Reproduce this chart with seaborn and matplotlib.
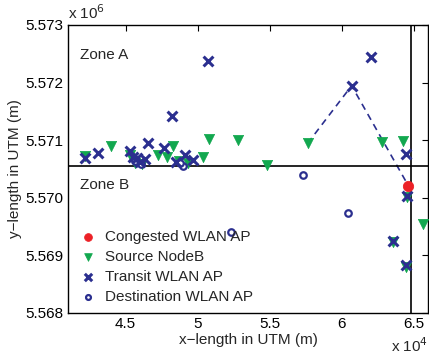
import numpy as np
import pandas as pd
import matplotlib
matplotlib.use("Agg")
import matplotlib.pyplot as plt
import seaborn as sns
from matplotlib.ticker import FuncFormatter

# point coordinates in UTM (m)
transit_x = [50743, 48243, 46576, 47687, 42181, 43104, 45305, 45535, 45771, 46347,
             46000, 48500, 49125, 49701, 62021, 60701, 64451, 64520, 63548, 64451]
transit_y = [5572380, 5571425, 5570946, 5570870, 5570686, 5570773, 5570821, 5570714,
             5570686, 5570669, 5570620, 5570627, 5570743, 5570656, 5572439, 5571946,
             5570760, 5570037, 5569255, 5568834]

source_x = [42181, 43986, 45305, 45653, 46139, 47271, 47854, 48326, 48708, 49354,
            50396, 50826, 52840, 54798, 57646, 62826, 64243, 65653, 64520, 63548, 64451]
source_y = [5570726, 5570899, 5570743, 5570599, 5570587, 5570743, 5570714, 5570899,
            5570639, 5570599, 5570714, 5571021, 5571004, 5570561, 5570946, 5570974,
            5570986, 5569545, 5570014, 5569233, 5568799]

dest_x = [57299, 60465, 52319, 49007, 45650, 46100, 48750]
dest_y = [5570396, 5569731, 5569412, 5570557, 5570640, 5570580, 5570600]

congested_x = [64640]
congested_y = [5570210]

# dashed path: source -> transit -> congested
path_x = [57646, 60701, 64640]
path_y = [5570946, 5571946, 5570210]

hline_y = 5570557
vline_x = 64840

blue = "#2b2f8f"
green = "#12a84f"
red = "#ec2127"

sns.set_style("white")
plt.rcParams["font.family"] = ["Liberation Sans", "DejaVu Sans"]
plt.rcParams["font.size"] = 11

fig = plt.figure(figsize=(4.29, 3.56), dpi=100)
ax = fig.add_axes([0.1585, 0.1208, 0.839, 0.809])

path = pd.DataFrame({"x": path_x, "y": path_y})
sns.lineplot(data=path, x="x", y="y", sort=False, ax=ax, color=blue,
             linestyle=(0, (4, 3)), linewidth=1.2, legend=False)

ax.axhline(hline_y, color="black", linewidth=1.2)
ax.axvline(vline_x, color="black", linewidth=1.2)

sns.scatterplot(x=source_x, y=source_y, ax=ax, marker="v", s=55, color=green,
                edgecolor=green, linewidth=0.5, label="Source NodeB", zorder=3)
sns.scatterplot(x=dest_x, y=dest_y, ax=ax, marker="o", s=22, facecolor="white",
                edgecolor=blue, linewidth=1.6, label="Destination WLAN AP", zorder=4)
sns.scatterplot(x=transit_x, y=transit_y, ax=ax, marker="x", s=50, color=blue,
                linewidth=2.2, label="Transit WLAN AP", zorder=5)
sns.scatterplot(x=congested_x, y=congested_y, ax=ax, marker="o", s=55, color=red,
                edgecolor=red, label="Congested WLAN AP", zorder=6)

ax.set_xlim(41000, 66000)
ax.set_ylim(5568000, 5573000)
ax.set_xticks([45000, 50000, 55000, 60000, 65000])
ax.set_yticks([5568000, 5569000, 5570000, 5571000, 5572000, 5573000])
ax.xaxis.set_major_formatter(FuncFormatter(lambda v, p: f"{v / 1e4:g}"))
ax.yaxis.set_major_formatter(FuncFormatter(lambda v, p: f"{v / 1e6:.3f}"))
ax.tick_params(direction="in", length=4, width=0.8, top=True, right=True,
               labelsize=11, colors="black", pad=3)
for sp in ax.spines.values():
    sp.set_color("black")
    sp.set_linewidth(1.0)

ax.set_xlabel("x\u2212length in UTM (m)", fontsize=11, labelpad=1)
ax.set_ylabel("y\u2212length in UTM (m)", fontsize=11, labelpad=3)

ax.text(0.0, 1.01, "x 10$^6$", transform=ax.transAxes, fontsize=11, va="bottom", ha="left")
ax.text(1.0, -0.135, "x 10$^4$", transform=ax.transAxes, fontsize=11, va="baseline", ha="right")

ax.text(41800, 5572480, "Zone A", fontsize=11, va="center")
ax.text(41800, 5570220, "Zone B", fontsize=11, va="center")

handles, labels = ax.get_legend_handles_labels()
order = ["Congested WLAN AP", "Source NodeB", "Transit WLAN AP", "Destination WLAN AP"]
hmap = dict(zip(labels, handles))
ax.legend([hmap[k] for k in order], order, loc="lower left", frameon=False,
          fontsize=11, markerscale=0.75, handletextpad=0.5, labelspacing=0.38,
          borderaxespad=0.3, handlelength=1.2, bbox_to_anchor=(0.0, -0.005))

fig.savefig("out.png", dpi=100)
